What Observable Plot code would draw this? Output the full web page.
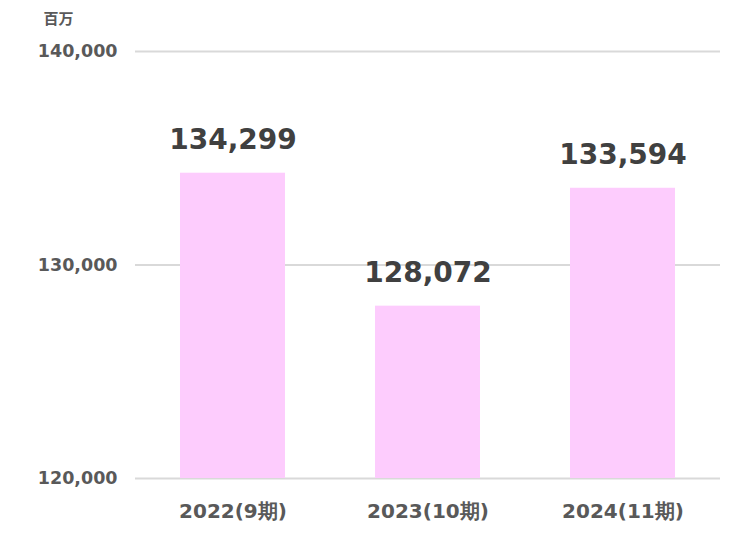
<!DOCTYPE html>
<html><head><meta charset="utf-8">
<script src="https://cdn.jsdelivr.net/npm/d3@7"></script>
<script src="https://cdn.jsdelivr.net/npm/@observablehq/plot@0.6"></script>
<style>
body{margin:0;background:#fff;}
#chart svg{display:block;}
</style>
</head><body><div id="chart"></div>
<script>
const categories = ["2022(9期)", "2023(10期)", "2024(11期)"];
const values = [134299, 128072, 133594];
const yTicks = [120000, 130000, 140000];
const unitLabel = "百万";

const data = categories.map((c, i) => ({cat: c, value: values[i]}));
const fmt = d3.format(",");
const font = "'DejaVu Sans', Verdana, sans-serif";

const chart = Plot.plot({
  width: 745,
  height: 533,
  marginLeft: 135,
  marginRight: 25,
  marginTop: 51,
  marginBottom: 55,
  style: {fontFamily: font, background: "#fff"},
  x: {domain: categories, paddingInner: 0.46, paddingOuter: 0.23, label: null},
  y: {domain: [120000, 140000], label: null},
  marks: [
    Plot.ruleY(yTicks, {stroke: "#d9d9d9", strokeWidth: 2}),
    Plot.barY(data, {x: "cat", y1: 120000, y2: "value", fill: "#fdccfd"}),
    Plot.text(data, {x: "cat", y: "value", text: d => fmt(d.value), dy: -33, fontSize: 28, fontWeight: "bold", fill: "#404040"}),
    Plot.axisY({ticks: yTicks, tickSize: 0, tickPadding: 18, tickFormat: fmt, fontSize: 17.5, fontWeight: "bold", fill: "#595959", label: null}),
    Plot.axisX({tickSize: 0, tickPadding: 25, fontSize: 20, fontWeight: "bold", fill: "#595959", label: null}),
    Plot.text([unitLabel], {frameAnchor: "top-left", dx: -92, dy: -38, text: d => d, fontSize: 15, fontWeight: "bold", fill: "#595959", fontFamily: "'Noto Sans CJK JP', sans-serif"})
  ]
});
document.getElementById("chart").append(chart);
</script>
</body></html>
